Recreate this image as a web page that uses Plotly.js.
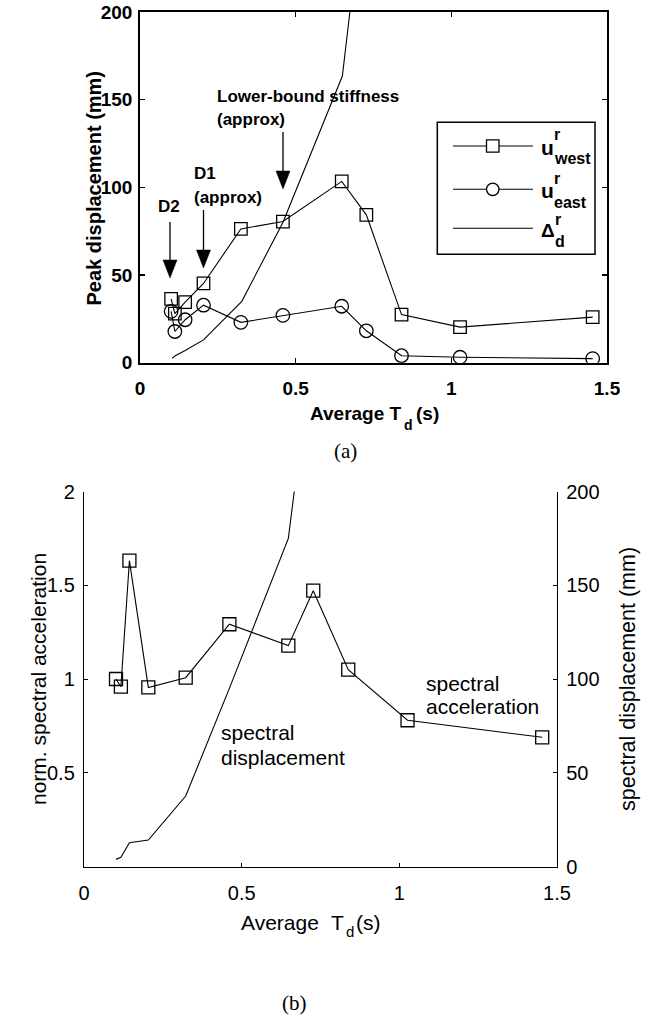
<!DOCTYPE html>
<html>
<head>
<meta charset="utf-8">
<script src="https://cdn.plot.ly/plotly-3.0.1.min.js"></script>
<style>html,body{margin:0;padding:0;background:#fff;}#chart{width:649px;height:1017px;}</style>
</head>
<body>
<div id="chart"></div>
<script>
// ---------- data: (a) peak displacement ----------
const avgTd = [0.100, 0.112, 0.145, 0.204, 0.324, 0.459, 0.648, 0.727, 0.840, 1.028, 1.454];
const uWest = [36.4, 28.0, 34.5, 45.2, 76.3, 80.5, 103.4, 84.3, 27.4, 20.3, 26.0];
const uEast = [29.3, 17.8, 24.5, 32.8, 23.0, 27.0, 32.2, 18.2, 4.0, 3.1, 2.3];
const deltaT = [0.103, 0.112, 0.145, 0.204, 0.327, 0.459, 0.650, 0.727];
const deltaD = [2.5, 3.8, 6.9, 13.0, 35.0, 80.0, 163.5, 280.0];
// ---------- data: (b) spectra ----------
const specT = [0.1015, 0.117, 0.144, 0.204, 0.3225, 0.461, 0.648, 0.727, 0.838, 1.026, 1.453];
const specAcc = [1.00, 0.959, 1.631, 0.955, 1.007, 1.292, 1.178, 1.471, 1.05, 0.78, 0.689];
const sdT = [0.1015, 0.117, 0.144, 0.204, 0.3225, 0.461, 0.648, 0.727];
const specDisp = [3.8, 4.9, 12.7, 14.1, 37.6, 95.0, 175.0, 280.0];
// ---------- ticks ----------
const xTicks = [0, 0.5, 1, 1.5];
const peakTicks = [0, 50, 100, 150, 200];
const accTicks = [0.5, 1, 1.5, 2];
const sdTicks = [0, 50, 100, 150, 200];

const W = 649, H = 1017;
const px = x => x / W;
const py = y => 1 - y / H;
const SANS = 'Liberation Sans, Arial, Helvetica, sans-serif';
const SERIF = 'Liberation Serif, Times New Roman, serif';
const BOLD = {family: SANS, size: 19, color: '#000', weight: 'bold'};
const REG = {family: SANS, size: 20, color: '#000'};

const traces = [
  {x: avgTd, y: uWest, xaxis: 'x', yaxis: 'y', mode: 'lines+markers', type: 'scatter',
   line: {color: '#000', width: 1.1},
   marker: {symbol: 'square-open', size: 12.5, color: '#000', line: {color: '#000', width: 1.3}}},
  {x: avgTd, y: uEast, xaxis: 'x', yaxis: 'y', mode: 'lines+markers', type: 'scatter',
   line: {color: '#000', width: 1.1},
   marker: {symbol: 'circle-open', size: 13.5, color: '#000', line: {color: '#000', width: 1.3}}},
  {x: deltaT, y: deltaD, xaxis: 'x', yaxis: 'y', mode: 'lines', type: 'scatter',
   line: {color: '#000', width: 1.1}},
  {x: specT, y: specAcc, xaxis: 'x2', yaxis: 'y2', mode: 'lines+markers', type: 'scatter',
   line: {color: '#000', width: 1.1},
   marker: {symbol: 'square-open', size: 13, color: '#000', line: {color: '#000', width: 1.3}}},
  {x: sdT, y: specDisp, xaxis: 'x2', yaxis: 'y3', mode: 'lines', type: 'scatter',
   line: {color: '#000', width: 1.1}}
];

const shapes = [];
const annotations = [];
function arrow(x, top, tip) {
  shapes.push({type: 'line', xref: 'paper', yref: 'paper', x0: px(x), x1: px(x), y0: py(top), y1: py(tip - 16),
    line: {color: '#000', width: 1.3}});
  shapes.push({type: 'path', xref: 'paper', yref: 'paper',
    path: `M ${px(x - 7)},${py(tip - 18)} L ${px(x + 7)},${py(tip - 18)} L ${px(x)},${py(tip)} Z`,
    fillcolor: '#000', line: {color: '#000', width: 0.5}});
}
function txt(text, x, y, font, xanchor, extra) {
  annotations.push(Object.assign({text: text, xref: 'paper', yref: 'paper', x: px(x), y: py(y),
    xanchor: xanchor || 'center', yanchor: 'middle', showarrow: false, borderpad: 0, font: font}, extra || {}));
}
const ann17 = {family: SANS, size: 17, color: '#000', weight: 'bold'};

// arrows + labels (a)
arrow(170, 222, 278);
arrow(203.5, 210, 268);
arrow(283, 132, 189);
txt('D2', 169, 206, ann17, 'center');
txt('D1', 193, 174, ann17, 'left');
txt('(approx)', 193, 197, ann17, 'left');
txt('Lower-bound stiffness', 216, 97, ann17, 'left');
txt('(approx)', 216, 119, ann17, 'left');

// custom legend (a)
shapes.push({type: 'rect', xref: 'paper', yref: 'paper', x0: px(437.3), x1: px(595), y0: py(254.3), y1: py(122.3),
  line: {color: '#000', width: 1.5}, fillcolor: '#fff', layer: 'above'});
const legY = [146, 189.3, 228.3];
legY.forEach(y => shapes.push({type: 'line', xref: 'paper', yref: 'paper', x0: px(453), x1: px(533), y0: py(y), y1: py(y),
  line: {color: '#000', width: 1.1}}));
shapes.push({type: 'rect', xref: 'paper', yref: 'paper', x0: px(486.5), x1: px(499), y0: py(152.2), y1: py(139.8),
  line: {color: '#000', width: 1.3}, fillcolor: '#fff'});
shapes.push({type: 'circle', xref: 'paper', yref: 'paper', x0: px(486.5), x1: px(499), y0: py(195.5), y1: py(183.1),
  line: {color: '#000', width: 1.3}, fillcolor: '#fff'});
const legBig = {family: SANS, size: 21, color: '#000', weight: 'bold'};
const legSmall = {family: SANS, size: 16, color: '#000', weight: 'bold'};
// legend labels u^r_west, u^r_east, Δ^r_d (superscript stacked over subscript)
txt('u', 539.5, 147, legBig, 'left');
txt('r', 552.6, 135, legSmall, 'left');
txt('west', 552.6, 158, legSmall, 'left');
txt('u', 539.5, 190.5, legBig, 'left');
txt('r', 552.6, 178.5, legSmall, 'left');
txt('east', 552.6, 202, legSmall, 'left');
txt('\u0394', 539.5, 230, {family: SANS, size: 19, color: '#000', weight: 'bold'}, 'left');
txt('r', 553.5, 219, legSmall, 'left');
txt('d', 553.5, 242, legSmall, 'left');

// axis titles (a)
const tA = {family: SANS, size: 19, color: '#000', weight: 'bold'};
txt('Average T', 403, 413, tA, 'right');
txt('d', 403, 425, {family: SANS, size: 14, color: '#000', weight: 'bold'}, 'left');
txt('(s)', 415, 413, tA, 'left');
txt('Peak displacement (mm)', 93, 187.5, {family: SANS, size: 20, color: '#000', weight: 'bold'}, 'center', {textangle: -90});
txt('(a)', 345, 451, {family: SERIF, size: 21, color: '#000'}, 'center');

// (b) texts
const ann21 = {family: SANS, size: 21, color: '#000'};
txt('spectral', 220, 732, ann21, 'left');
txt('displacement', 220, 757, ann21, 'left');
txt('spectral', 425, 683, ann21, 'left');
txt('acceleration', 425, 706, ann21, 'left');
txt('Average', 240, 922, ann21, 'left');
txt('T', 330, 922, ann21, 'left');
txt('d', 345, 931, {family: SANS, size: 15, color: '#000'}, 'left');
txt('(s)', 354.5, 922, ann21, 'left');
txt('norm. spectral acceleration', 38, 679, ann21, 'center', {textangle: -90});
txt('spectral displacement (mm)', 628, 679, {family: SANS, size: 21.5, color: '#000'}, 'center', {textangle: -90});
txt('(b)', 294, 1003, {family: SERIF, size: 21, color: '#000'}, 'center');

const axA = {showgrid: false, zeroline: false, showline: true, linecolor: '#000', linewidth: 1.8,
  mirror: 'ticks', ticks: 'inside', ticklen: 5, tickwidth: 1.2, tickcolor: '#000', tickfont: BOLD};
const axB = {showgrid: false, zeroline: false, showline: true, linecolor: '#000', linewidth: 1.2,
  ticks: 'inside', ticklen: 4, tickwidth: 1, tickcolor: '#000', tickfont: REG};

const layout = {
  width: W, height: H,
  margin: {l: 0, r: 0, t: 0, b: 0},
  paper_bgcolor: '#fff', plot_bgcolor: 'rgba(0,0,0,0)',
  showlegend: false,
  xaxis: Object.assign({}, axA, {domain: [px(140), px(607)], range: [0, 1.5], tickvals: xTicks, anchor: 'y',
    ticklabelstandoff: 8}),
  yaxis: Object.assign({}, axA, {domain: [py(362.7), py(12)], range: [0, 200], tickvals: peakTicks, anchor: 'x',
    ticklabelstandoff: 2}),
  xaxis2: Object.assign({}, axB, {domain: [px(84), px(557)], range: [0, 1.5], tickvals: xTicks, anchor: 'y2',
    ticklabelstandoff: 8}),
  yaxis2: Object.assign({}, axB, {domain: [py(866.5), py(491.5)], range: [0, 2], tickvals: accTicks, anchor: 'x2',
    ticklabelstandoff: 4}),
  yaxis3: Object.assign({}, axB, {overlaying: 'y2', side: 'right', anchor: 'x2', range: [0, 200], tickvals: sdTicks,
    ticklabelstandoff: 4}),
  shapes: shapes,
  annotations: annotations
};

Plotly.newPlot('chart', traces, layout, {displayModeBar: false, staticPlot: true});
</script>
</body>
</html>
